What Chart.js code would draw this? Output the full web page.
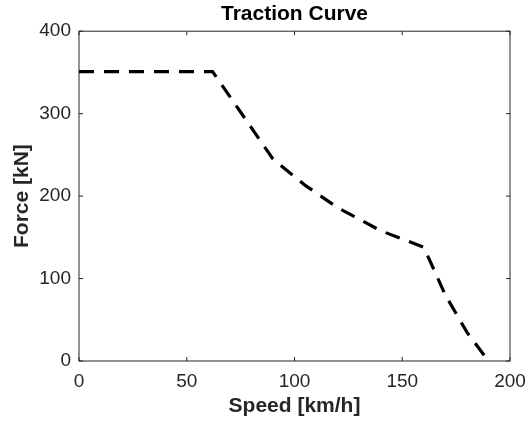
<!DOCTYPE html>
<html>
<head>
<meta charset="utf-8">
<script src="https://cdn.jsdelivr.net/npm/chart.js@4.4.1/dist/chart.umd.min.js"></script>
<style>
    html, body { margin: 0; padding: 0; background: #fff; }
    #wrap { width: 529px; height: 421px; }
</style>
</head>
<body>
<div id="wrap"><canvas id="tractionChart" width="529" height="421"></canvas></div>
<script>
// data
const speeds = [0, 62, 90, 105, 120, 140, 160, 170, 180, 190];
const forces = [351, 351, 245, 213, 186, 158, 138, 80, 35, 0];
const xTicks = [0, 50, 100, 150, 200];
const yTicks = [0, 100, 200, 300, 400];

const fontFamily = "'Liberation Sans', Arial, Helvetica, sans-serif";
const axisColor = '#262626';
const tickLen = 4;

// matlab-style box with ticks pointing inward on all four sides
const boxPlugin = {
    id: 'boxPlugin',
    beforeDatasetsDraw(chart) {
        const { ctx, chartArea: a, scales: { x, y } } = chart;
        ctx.save();
        ctx.strokeStyle = axisColor;
        ctx.lineWidth = 1;
        ctx.strokeRect(a.left, a.top, a.right - a.left, a.bottom - a.top);
        ctx.beginPath();
        xTicks.forEach(v => {
            const px = x.getPixelForValue(v);
            ctx.moveTo(px, a.bottom);
            ctx.lineTo(px, a.bottom - tickLen);
            ctx.moveTo(px, a.top);
            ctx.lineTo(px, a.top + tickLen);
        });
        yTicks.forEach(v => {
            const py = y.getPixelForValue(v);
            ctx.moveTo(a.left, py);
            ctx.lineTo(a.left + tickLen, py);
            ctx.moveTo(a.right, py);
            ctx.lineTo(a.right - tickLen, py);
        });
        ctx.stroke();
        ctx.restore();
    }
};

const ctx = document.getElementById('tractionChart').getContext('2d');

new Chart(ctx, {
    type: 'line',
    data: {
        datasets: [{
            label: 'Traction',
            data: speeds.map((s, i) => ({ x: s, y: forces[i] })),
            borderColor: '#000',
            borderWidth: 3.2,
            borderDash: [15, 10],
            borderCapStyle: 'butt',
            pointRadius: 0,
            tension: 0,
            fill: false
        }]
    },
    options: {
        responsive: false,
        animation: false,
        layout: { padding: { left: 0, right: 19, top: 0, bottom: 0 } },
        plugins: {
            legend: { display: false },
            tooltip: { enabled: false },
            title: {
                display: true,
                fullSize: false,
                text: 'Traction Curve',
                color: '#000',
                font: { family: fontFamily, size: 21, weight: 'bold' },
                padding: { top: 2, bottom: 4 }
            }
        },
        scales: {
            x: {
                type: 'linear',
                min: 0,
                max: 200,
                afterBuildTicks: scale => { scale.ticks = xTicks.map(v => ({ value: v })); },
                afterFit: scale => {
                    scale.height = 60;
                    scale.paddingLeft = 0;
                    scale.paddingRight = 0;
                },
                grid: { display: false, drawTicks: false },
                border: { display: false },
                ticks: {
                    color: axisColor,
                    padding: 9,
                    maxRotation: 0,
                    font: { family: fontFamily, size: 19 }
                },
                title: {
                    display: true,
                    text: 'Speed [km/h]',
                    color: axisColor,
                    font: { family: fontFamily, size: 21, weight: 'bold' },
                    padding: { top: 0, bottom: 2 }
                }
            },
            y: {
                type: 'linear',
                min: 0,
                max: 400,
                afterBuildTicks: scale => { scale.ticks = yTicks.map(v => ({ value: v })); },
                afterFit: scale => {
                    scale.width = 79;
                    scale.paddingTop = 0;
                    scale.paddingBottom = 0;
                },
                grid: { display: false, drawTicks: false },
                border: { display: false },
                ticks: {
                    color: axisColor,
                    padding: 8,
                    font: { family: fontFamily, size: 19 }
                },
                title: {
                    display: true,
                    text: 'Force [kN]',
                    color: axisColor,
                    font: { family: fontFamily, size: 21, weight: 'bold' },
                    padding: { top: 10, bottom: 0 }
                }
            }
        }
    },
    plugins: [boxPlugin]
});
</script>
</body>
</html>
